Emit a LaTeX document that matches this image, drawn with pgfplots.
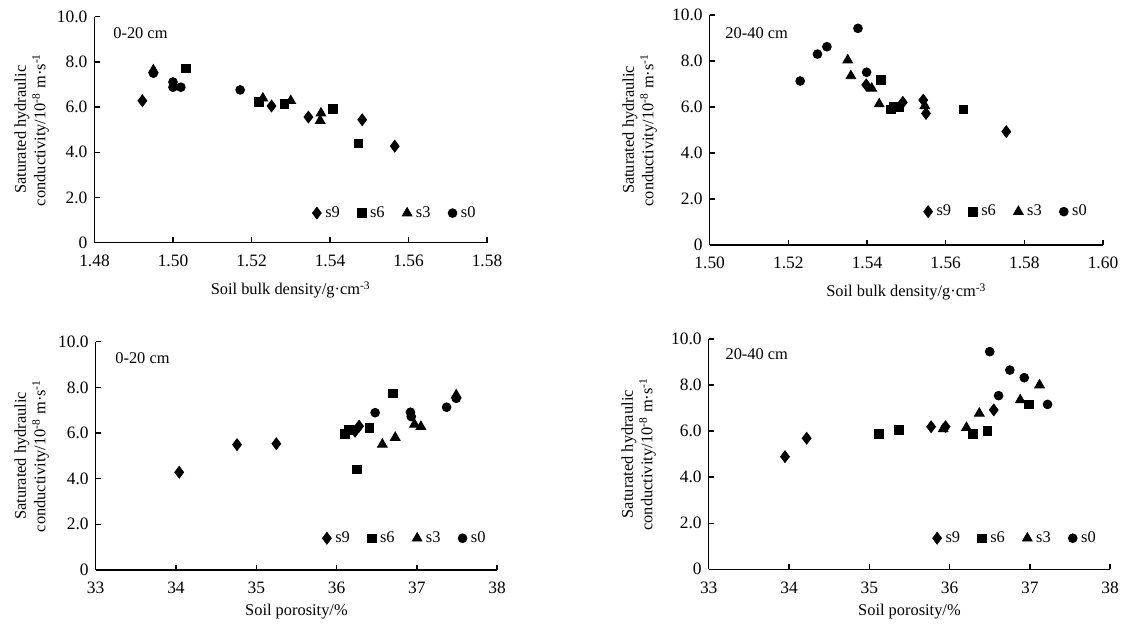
\documentclass[border=0pt]{standalone}
\usepackage{fontspec}
\setmainfont{Liberation Serif}
\usepackage{pgfplots}
\pgfplotsset{compat=1.18}
\newcommand\lbl{\fontsize{8.2}{9.8}\selectfont}
\newcommand\tkl{\fontsize{8.7}{10}\selectfont}
\pgfplotsset{
  mk/.style={only marks, black, mark options={solid, fill=black},
    legend image code/.code={\draw[mark repeat=2,mark phase=2,##1] plot coordinates {(0cm,0cm)(0.1cm,0cm)(0.2cm,0cm)};}},
  sn/.style={mk, mark=diamond*, mark size=2.95pt},
  ss/.style={mk, mark=square*, mark size=2.15pt},
  st/.style={mk, mark=triangle*, mark size=2.8pt},
  so/.style={mk, mark=*, mark size=2.2pt},
  myax/.style={scale only axis, clip=false, anchor=south west,
    axis lines=left, axis line style={-, line width=0.7pt},
    tick align=inside, major tick length=2.6pt, tick style={black, line width=0.7pt},
    ymin=0, ymax=10, ytick={0,2,4,6,8,10}, yticklabels={0,2.0,4.0,6.0,8.0,10.0},
    tick label style={font=\tkl},
    /pgf/number format/assume math mode=true,
    xticklabel style={anchor=base, yshift=-12pt},
    label style={font=\lbl},
    ylabel={Saturated hydraulic\\conductivity/10\textsuperscript{-8} m·s\textsuperscript{-1}},
    legend columns=4,
    legend style={draw=none, fill=none, inner sep=0pt, font=\lbl, anchor=east,
      /tikz/every even column/.append style={column sep=6.8pt}},
  }
}
\begin{document}
\begin{tikzpicture}
\useasboundingbox (0,0) rectangle (563pt,313pt);
% ---------------- top left
\begin{axis}[myax, at={(47.25pt,191.65pt)}, width=196.25pt, height=113pt,
  xmin=1.48, xmax=1.58, xtick={1.48,1.50,1.52,1.54,1.56,1.58},
  xticklabels={1.48,1.50,1.52,1.54,1.56,1.58},
  xlabel={Soil bulk density/g·cm\textsuperscript{-3}},
  xlabel style={at={([yshift=-26pt]axis description cs:0.5,0)}, anchor=base},
  ylabel style={align=center, at={([xshift=-31.4pt]axis description cs:0,0.5)}, anchor=center},
  legend style={at={(rel axis cs:0.982,0.131)}}]
\addplot[sn] coordinates {(1.4922,6.28) (1.5251,6.05) (1.5345,5.56) (1.5482,5.44) (1.5565,4.27)};
\addplot[ss] coordinates {(1.5033,7.72) (1.5219,6.24) (1.5284,6.14) (1.5408,5.92) (1.5472,4.40)};
\addplot[st] coordinates {(1.4950,7.64) (1.5229,6.39) (1.5300,6.28) (1.5377,5.73) (1.5375,5.40)};
\addplot[so] coordinates {(1.4950,7.50) (1.5000,7.11) (1.5000,6.88) (1.5020,6.88) (1.5171,6.76)};
\legend{s9,s6,s3,s0}
\node[anchor=west, font=\lbl, inner sep=0pt] at (rel axis cs:0.047,0.928) {0-20 cm};
\end{axis}
% ---------------- top right
\begin{axis}[myax, at={(354.85pt,190.5pt)}, width=196.65pt, height=115pt,
  xmin=1.50, xmax=1.60, xtick={1.50,1.52,1.54,1.56,1.58,1.60},
  xticklabels={1.50,1.52,1.54,1.56,1.58,1.60},
  xlabel={Soil bulk density/g·cm\textsuperscript{-3}},
  xlabel style={at={([yshift=-26pt]axis description cs:0.5,0)}, anchor=base},
  ylabel style={align=center, at={([xshift=-35pt]axis description cs:0,0.5)}, anchor=center},
  legend style={at={(rel axis cs:0.970,0.145)}}]
\addplot[sn] coordinates {(1.5398,6.96) (1.5491,6.20) (1.5543,6.30) (1.5550,5.72) (1.5754,4.93)};
\addplot[ss] coordinates {(1.5435,7.17) (1.5461,5.90) (1.5468,6.02) (1.5482,6.00) (1.5645,5.90)};
\addplot[st] coordinates {(1.5351,8.04) (1.5359,7.35) (1.5412,6.81) (1.5431,6.13) (1.5547,6.05)};
\addplot[so] coordinates {(1.5230,7.13) (1.5274,8.30) (1.5298,8.62) (1.5377,9.42) (1.5399,7.51)};
\legend{s9,s6,s3,s0}
\node[anchor=west, font=\lbl, inner sep=0pt] at (rel axis cs:0.039,0.92) {20-40 cm};
\end{axis}
% ---------------- bottom left
\begin{axis}[myax, at={(47.85pt,28pt)}, width=200.75pt, height=114.15pt,
  xmin=33, xmax=38, xtick={33,34,35,36,37,38},
  xlabel={Soil porosity/\%},
  xlabel style={at={([yshift=-23pt]axis description cs:0.5,0)}, anchor=base},
  ylabel style={align=center, at={([xshift=-32pt]axis description cs:0,0.5)}, anchor=center},
  legend style={at={(rel axis cs:0.982,0.139)}}]
\addplot[sn] coordinates {(34.04,4.28) (34.76,5.49) (35.25,5.53) (36.23,6.08) (36.28,6.30)};
\addplot[ss] coordinates {(36.10,5.97) (36.15,6.13) (36.41,6.23) (36.25,4.41) (36.70,7.74)};
\addplot[st] coordinates {(36.57,5.50) (36.73,5.80) (36.97,6.38) (37.05,6.28) (37.49,7.66)};
\addplot[so] coordinates {(36.48,6.89) (36.92,6.91) (36.93,6.72) (37.37,7.13) (37.49,7.52)};
\legend{s9,s6,s3,s0}
\node[anchor=west, font=\lbl, inner sep=0pt] at (rel axis cs:0.048,0.927) {0-20 cm};
\end{axis}
% ---------------- bottom right
\begin{axis}[myax, at={(354.35pt,28.35pt)}, width=200.75pt, height=115.15pt,
  xmin=33, xmax=38, xtick={33,34,35,36,37,38},
  xlabel={Soil porosity/\%},
  xlabel style={at={([yshift=-23pt]axis description cs:0.5,0)}, anchor=base},
  ylabel style={align=center, at={([xshift=-35pt]axis description cs:0,0.5)}, anchor=center},
  legend style={at={(rel axis cs:0.975,0.135)}}]
\addplot[sn] coordinates {(33.95,4.89) (34.22,5.69) (35.77,6.19) (35.95,6.19) (36.55,6.92)};
\addplot[ss] coordinates {(35.12,5.88) (35.37,6.05) (36.29,5.88) (36.47,6.01) (36.99,7.16)};
\addplot[st] coordinates {(35.92,6.09) (36.21,6.15) (36.37,6.77) (36.88,7.35) (37.12,8.00)};
\addplot[so] coordinates {(36.50,9.45) (36.75,8.65) (36.61,7.54) (36.93,8.32) (37.22,7.16)};
\legend{s9,s6,s3,s0}
\node[anchor=west, font=\lbl, inner sep=0pt] at (rel axis cs:0.041,0.934) {20-40 cm};
\end{axis}
\end{tikzpicture}
\end{document}
